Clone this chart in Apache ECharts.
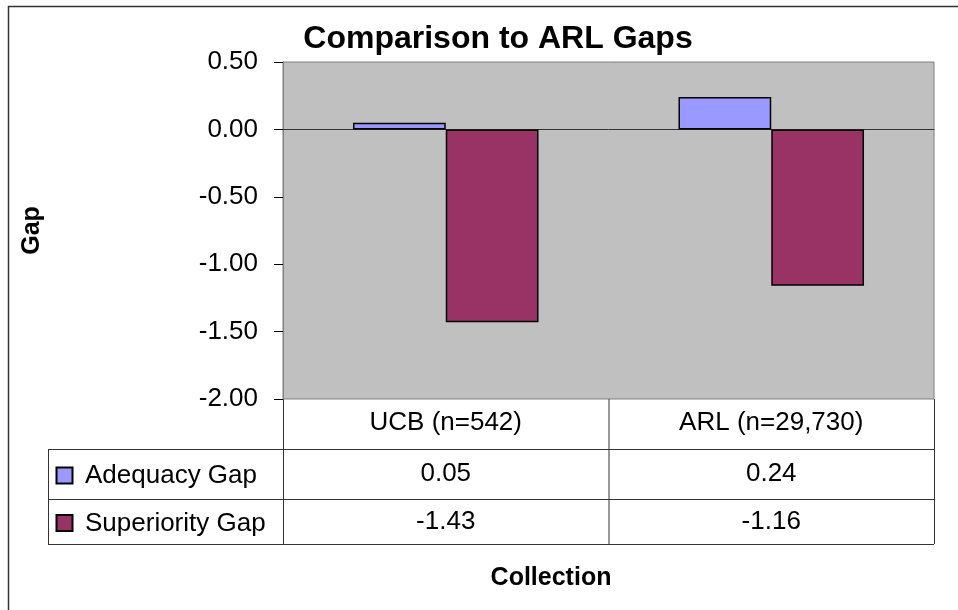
<!DOCTYPE html>
<html>
<head>
<meta charset="utf-8">
<script src="https://cdn.jsdelivr.net/npm/echarts@6/dist/echarts.min.js"></script>
<style>html,body{margin:0;padding:0;background:#fff}#c{width:958px;height:610px}</style>
</head>
<body>
<div id="c"></div>
<script>
var categories = ['UCB (n=542)', 'ARL (n=29,730)'];
var seriesNames = ['Adequacy Gap', 'Superiority Gap'];
var adequacy = [0.05, 0.24];
var superiority = [-1.43, -1.16];
var yTicks = { min: -2, max: 0.5, interval: 0.5 };
var colors = ['#9999FF', '#993366'];

var FONT = '"Liberation Sans", Arial, sans-serif';
var chart = echarts.init(document.getElementById('c'));

var gridL = 283, gridT = 62, gridR = 934, gridB = 399;
var rowLines = [449, 499, 544];
var tableLeft = 48;
var lineColor = '#333';

var graphics = [
  { type: 'rect', shape: { x: 8.5, y: 6.5, width: 1000, height: 700 }, style: { fill: 'none', stroke: '#333', lineWidth: 1.5 }, silent: true },
  { type: 'text', x: 551, y: 578, style: { text: 'Collection', font: 'bold 25px ' + FONT, fill: '#000', textAlign: 'center', textVerticalAlign: 'middle' }, silent: true }
];
rowLines.forEach(function (y) {
  graphics.push({ type: 'line', shape: { x1: tableLeft, y1: y + 0.5, x2: gridR, y2: y + 0.5 }, style: { stroke: lineColor, lineWidth: 1 }, silent: true });
});
[[tableLeft, rowLines[0]], [gridL, gridB], [(gridL + gridR) / 2, gridB], [gridR, gridB]].forEach(function (p) {
  graphics.push({ type: 'line', shape: { x1: p[0] + 0.5, y1: p[1], x2: p[0] + 0.5, y2: rowLines[2] }, style: { stroke: lineColor, lineWidth: 1 }, silent: true });
});
seriesNames.forEach(function (name, i) {
  var cy = (rowLines[i] + rowLines[i + 1]) / 2;
  graphics.push({ type: 'rect', shape: { x: 56.5, y: cy - 6.5, width: 16, height: 16 }, style: { fill: colors[i], stroke: '#000', lineWidth: 2 }, silent: true });
  graphics.push({ type: 'text', x: 85, y: cy + 2, style: { text: name, font: '26px ' + FONT, fill: '#000', textVerticalAlign: 'middle' }, silent: true });
});

function tableAxis(data, offset, margin) {
  return {
    type: 'category', data: data, position: 'bottom', offset: offset,
    axisLine: { show: false }, axisTick: { show: false },
    axisLabel: { margin: margin, color: '#000', fontFamily: FONT, fontSize: 26, verticalAlign: 'top' }
  };
}

chart.setOption({
  animation: false,
  title: {
    text: 'Comparison to ARL Gaps', left: 493, top: 18, textAlign: 'center',
    textStyle: { fontFamily: FONT, fontSize: 32, fontWeight: 'bold', color: '#000' }
  },
  grid: {
    left: gridL, top: gridT, right: 958 - gridR, bottom: 610 - gridB,
    show: true, backgroundColor: '#C0C0C0', borderColor: '#808080', borderWidth: 1
  },
  xAxis: [
    {
      type: 'category', data: categories,
      axisLine: { onZero: true, lineStyle: { color: '#333', width: 1 } },
      axisTick: { show: false }, axisLabel: { show: false }
    },
    tableAxis(categories, 0, 11),
    tableAxis(adequacy.map(function (v) { return v.toFixed(2); }), 62, 0),
    tableAxis(superiority.map(function (v) { return v.toFixed(2); }), 110, 0)
  ],
  yAxis: {
    type: 'value', min: yTicks.min, max: yTicks.max, interval: yTicks.interval,
    axisLine: { show: true, lineStyle: { color: '#808080' } },
    axisTick: { show: true, length: 9, lineStyle: { color: '#000' } },
    splitLine: { show: false },
    axisLabel: { margin: 25, color: '#000', fontFamily: FONT, fontSize: 26, formatter: function (v) { return v.toFixed(2); } },
    name: 'Gap', nameLocation: 'middle', nameGap: 238, nameRotate: 90,
    nameTextStyle: { fontFamily: FONT, fontSize: 25, fontWeight: 'bold', color: '#000' }
  },
  series: [
    {
      name: seriesNames[0], type: 'bar', data: adequacy,
      barGap: '0%', barCategoryGap: '43%',
      itemStyle: { color: colors[0], borderColor: '#000', borderWidth: 1.5 }
    },
    {
      name: seriesNames[1], type: 'bar', data: superiority,
      barGap: '0%', barCategoryGap: '43%',
      itemStyle: { color: colors[1], borderColor: '#000', borderWidth: 1.5 }
    }
  ],
  graphic: graphics
});
</script>
</body>
</html>
